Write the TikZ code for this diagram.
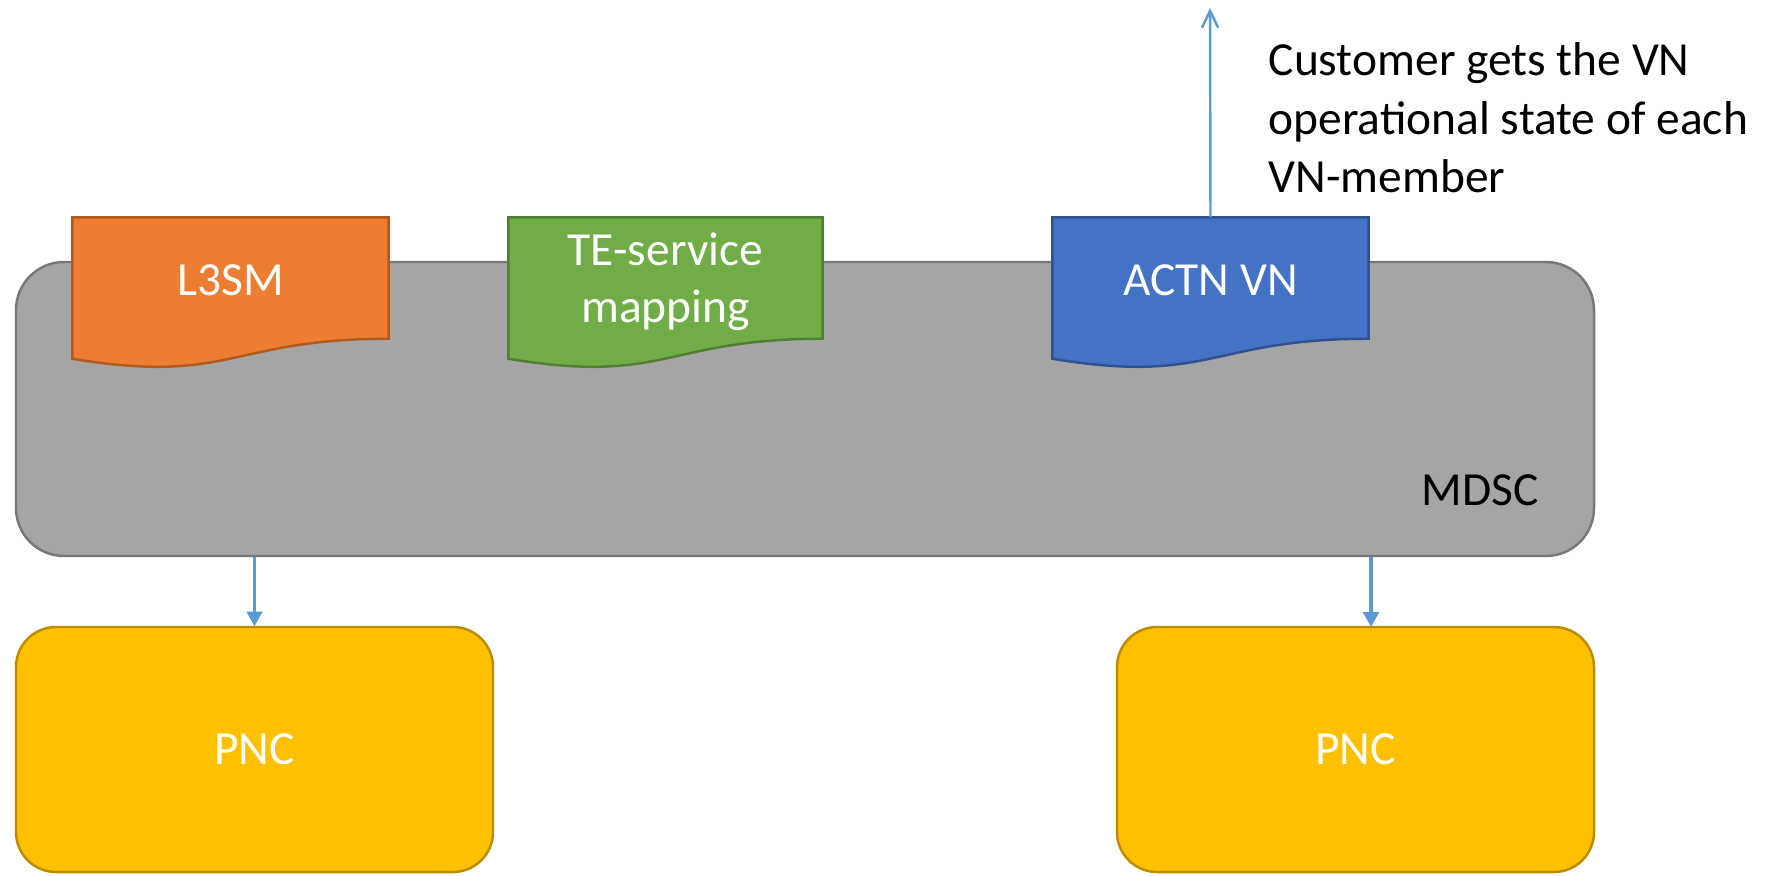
\documentclass[tikz,border=0pt]{standalone}
\usepackage{fontspec}
\setmainfont{Carlito}
\usetikzlibrary{arrows.meta,calc}

\definecolor{grayfill}{HTML}{A5A5A5}
\definecolor{grayline}{HTML}{787878}
\definecolor{orangefill}{HTML}{ED7D31}
\definecolor{orangeline}{HTML}{AE5A21}
\definecolor{greenfill}{HTML}{70AD47}
\definecolor{greenline}{HTML}{507E32}
\definecolor{bluefill}{HTML}{4472C4}
\definecolor{blueline}{HTML}{2F528F}
\definecolor{goldfill}{HTML}{FFC000}
\definecolor{goldline}{HTML}{BC8C00}
\definecolor{arrowblue}{HTML}{5B9BD5}

% wavy-bottom document outline drawn over the anchors of a named frame node
\newcommand{\docshape}[3]{%
  \path[fill=#2, draw=#3, line width=0.7pt]
    (#1.north west) -- (#1.north east)
    -- ($(#1.north east)!0.802!(#1.south east)$)
    .. controls ($(#1.north)!0.802!(#1.south)$) and ($(#1.north)!1.1075!(#1.south)$)
    .. ($(#1.north west)!0.934!(#1.south west)$) -- cycle;}

\tikzset{
  every node/.style={font=\fontsize{13.5}{16.2}\selectfont},
  frame/.style={minimum width=#1, minimum height=150*0.01cm, inner sep=0pt},
  doclabel/.style={text=white, align=center},
  ctrl/.style={rounded corners=#1, line width=0.7pt},
  down/.style={draw=arrowblue, line width=0.9pt, -{Triangle[length=4.2pt,width=4.4pt]}},
  up/.style={draw=arrowblue, line width=0.7pt, -{Straight Barb[length=4.8pt,width=4.6pt]}},
}

\begin{document}
\begin{tikzpicture}[x=0.01cm, y=-0.01cm]
\useasboundingbox (0,0) rectangle (1770,875);

% MDSC
\draw[ctrl=0.48cm, fill=grayfill, draw=grayline] (16,262) rectangle (1594,556);
\node (mdsc) at (805,409) [minimum width=1578*0.01cm, minimum height=294*0.01cm, inner sep=0pt] {};
\node (mdsclabel) at (1480,490) {MDSC};

% PNCs
\draw[ctrl=0.40cm, fill=goldfill, draw=goldline] (16,627) rectangle (493,872);
\node (pnc1) at (254.5,749.5) [minimum width=477*0.01cm, minimum height=245*0.01cm, inner sep=0pt, text=white] {PNC};
\draw[ctrl=0.40cm, fill=goldfill, draw=goldline] (1117,627) rectangle (1594,872);
\node (pnc2) at (1355.5,749.5) [minimum width=477*0.01cm, minimum height=245*0.01cm, inner sep=0pt, text=white] {PNC};
\coordinate (pnc2in) at (1371,627);

% documents on top of the MDSC
\node (l3smframe) at (230.5,293) [frame=315*0.01cm] {};
\docshape{l3smframe}{orangefill}{orangeline}
\node[doclabel] (l3sm) at (230.5,280) {L3SM};

\node (teframe) at (665.5,293) [frame=313*0.01cm] {};
\docshape{teframe}{greenfill}{greenline}
\node[doclabel] (te) at (665.5,282) {TE-service\\mapping};

\node (actnframe) at (1210.5,293) [frame=315*0.01cm] {};
\docshape{actnframe}{bluefill}{blueline}
\node[doclabel] (actn) at (1210.5,280) {ACTN VN};

% connectors
\coordinate (customer) at (1210,8);
\draw[up] (actnframe.north) -- (customer);
\draw[down] (mdsc.south -| pnc1.north) -- (pnc1.north);
\draw[down] (mdsc.south -| pnc2in) -- (pnc2in);

\node[anchor=north west, align=left, inner sep=0pt,
      font=\fontsize{13.5}{16.6}\selectfont] (note) at (1268,42)
  {Customer gets the VN\\operational state of each\\VN-member};
\end{tikzpicture}
\end{document}
